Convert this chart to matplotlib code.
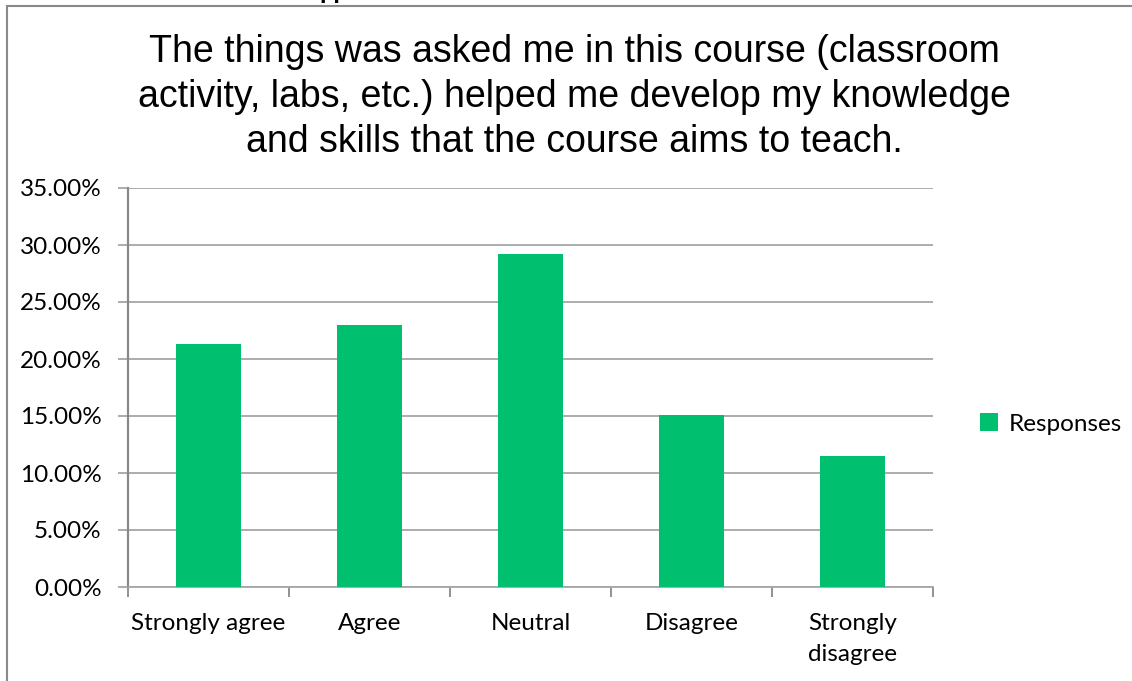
import matplotlib
matplotlib.use('Agg')
import matplotlib.pyplot as plt
from matplotlib.patches import Rectangle
import numpy as np

# 数据
categories = ['Strongly agree', 'Agree', 'Neutral', 'Disagree', 'Strongly\ndisagree']
responses = [21.31, 22.95, 29.18, 15.08, 11.48]
y_ticks = [0, 5, 10, 15, 20, 25, 30, 35]
title_text = ('The things was asked me in this course (classroom\n'
              'activity, labs, etc.) helped me develop my knowledge\n'
              'and skills that the course aims to teach.')

bar_color = '#00BF6F'
grid_color = '#A6A6A6'
axis_color = '#898989'
label_size = 17.5

fig = plt.figure(figsize=(11.32, 6.81), dpi=100)
ax = fig.add_axes([128 / 1132, 94 / 681, 805 / 1132, 399 / 681])

x = np.arange(len(categories))
ax.bar(x, responses, width=0.4, color=bar_color, label='Responses', zorder=3)

ax.set_xlim(-0.5, len(categories) - 0.5)
ax.set_ylim(0, 35)
ax.set_yticks(y_ticks)
ax.set_yticklabels([f'{v:.2f}%' for v in y_ticks])
ax.yaxis.grid(True, color=grid_color, linewidth=1.3, zorder=0)

# 类别刻度放在分界处，标签放在中间
ax.set_xticks(np.arange(-0.5, len(categories), 1.0))
ax.set_xticklabels([])
ax.set_xticks(x, minor=True)
ax.set_xticklabels(categories, minor=True, fontfamily='Lato', fontsize=label_size,
                   linespacing=1.55)
ax.tick_params(axis='x', which='minor', length=0, pad=19)
ax.tick_params(axis='x', which='major', length=7, width=1.3, color=axis_color)
ax.tick_params(axis='y', length=7, width=1.3, color=grid_color, pad=12,
               labelsize=label_size)
for lbl in ax.get_yticklabels():
    lbl.set_fontfamily('Lato')

for side in ['top', 'right']:
    ax.spines[side].set_visible(False)
ax.spines['left'].set_color(axis_color)
ax.spines['left'].set_linewidth(1.6)
ax.spines['bottom'].set_color(grid_color)
ax.spines['bottom'].set_linewidth(1.3)

fig.text(574 / 1132, 1 - 97 / 681, title_text, ha='center', va='center',
         fontfamily='Liberation Sans', fontsize=27, linespacing=1.33)

leg = fig.legend(loc='center left', bbox_to_anchor=(958 / 1132, 1 - 424 / 681),
                 frameon=False, prop={'family': 'Lato', 'size': label_size},
                 handlelength=0.75, handleheight=0.75, handletextpad=0.45)

# 外框和上方被截掉的标题
fig.patches.append(Rectangle((7 / 1132, -0.1), 1.2, 1 - 6 / 681 + 0.1,
                             transform=fig.transFigure, fill=False,
                             edgecolor=axis_color, linewidth=1.5))
fig.text(319 / 1132, 1 + 2 / 681, 'pp', ha='left', va='baseline',
         fontfamily='Liberation Sans', fontweight='bold', fontsize=17)

fig.savefig('out.png', dpi=100)
